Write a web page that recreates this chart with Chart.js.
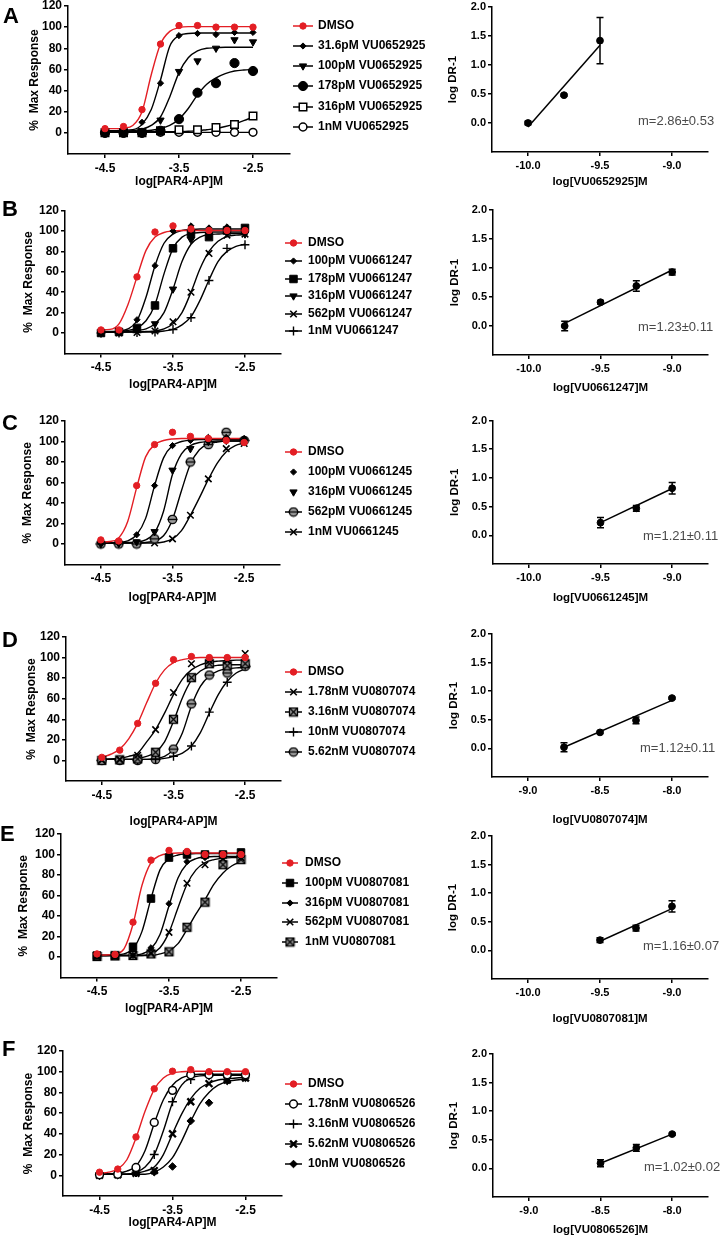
<!DOCTYPE html>
<html>
<head>
<meta charset="utf-8">
<title>PAR4 antagonist Schild analysis</title>
<script src="https://cdn.jsdelivr.net/npm/chart.js@4.4.1/dist/chart.umd.min.js"></script>
<style>
  html, body { margin: 0; padding: 0; background: #fff; }
  body { position: relative; width: 722px; height: 1238px; overflow: hidden; }
  canvas { position: absolute; }
</style>
</head>
<body>
<script>
// shared x values (log M PAR4-AP) and tick sets
const doseX = [-4.5, -4.25, -4, -3.75, -3.5, -3.25, -3, -2.75, -2.5];
const fitX = [-4.5, -4.375, -4.25, -4.125, -4, -3.875, -3.75, -3.625, -3.5, -3.375, -3.25, -3.125, -3, -2.875, -2.75, -2.625, -2.5];
const doseTicks = [-4.5, -3.5, -2.5];
const respTicks = [0, 20, 40, 60, 80, 100, 120];
const drTicks = [0, 0.5, 1, 1.5, 2];

// A - VU0652925
const aLabels = ['DMSO', '31.6pM VU0652925', '100pM VU0652925', '178pM VU0652925', '316pM VU0652925', '1nM VU0652925'];
const aResp = [
  [4, 6, 22, 84, 101.5, 101.5, 100, 100, 100],
  [1, 1, 10, 47, 92, 94, 93, 95, 95],
  [0, 0, 2, 12, 58, 68, 80, 88, 86],
  [0, 0, 0, 2, 13, 38, 47, 66, 58.5],
  [0, 0, 0, 2, 3, 3, 5, 8, 16],
  [0, 0, 0, 0.5, 0.5, 0.5, 0.5, 0.5, 0.5],
];
const aFit = [
  [4, 4, 4.5, 7, 20, 55, 84, 96, 99.5, 100.5, 100.5, 100.5, 100.5, 100.5, 100.5, 100.5, 100.5],
  [2, 2, 2.5, 3, 8, 22, 50, 82, 92, 94, 94.5, 94.5, 94.5, 94.5, 94.5, 94.5, 94.5],
  [1, 1, 1.5, 2, 3.5, 7, 15, 34, 57, 71, 77.5, 80, 80.5, 81, 81, 81, 81],
  [1, 1, 1, 1.5, 2, 2.5, 4, 7, 13, 23, 36, 46, 52, 56, 58.5, 59.5, 60],
  [1, 1, 1, 1, 1, 1, 1, 1, 1, 1.5, 2, 3, 4, 6, 8.5, 11.5, 15],
  [0.5, 0.5, 0.5, 0.5, 0.5, 0.5, 0.5, 0.5, 0.5, 0.5, 0.5, 0.5, 0.5, 0.5, 0.5, 0.5, 0.5],
];
const aSchildX = [-10, -9.75, -9.5];
const aSchildY = [0, 0.48, 1.42];
const aSchildErr = [0.03, 0.02, 0.4];
const aSchildFit = [-0.07, 1.34];
const aSchildTicks = [-10, -9.5, -9];
const aSlope = 'm=2.86±0.53';

// B - VU0661247
const bLabels = ['DMSO', '100pM VU0661247', '178pM VU0661247', '316pM VU0661247', '562pM VU0661247', '1nM VU0661247'];
const bResp = [
  [3, 3, 55, 99, 105, 102, 100.5, 100.5, 100.5],
  [1, 1, 13, 66, 100, 105, 103, 104, 103],
  [0, 1, 5, 27, 83, 97, 94, 100.5, 103],
  [0, 1, 5, 9, 43, 91.5, 96.5, 98, 97],
  [0, 0, 0.5, 2, 11, 40, 78, 96, 97],
  [0, 0, 0.5, 1, 3.5, 15, 51.5, 83, 86.5],
];
const bFit = [
  [3, 3.5, 9, 28, 55, 81, 94, 98.5, 100, 100.5, 100.5, 100.5, 100.5, 100.5, 100.5, 100.5, 100.5],
  [1.5, 1.5, 2, 4, 12, 35, 66, 88, 97, 100.5, 101.5, 102, 102, 102, 102, 102, 102],
  [1, 1, 1.5, 2.5, 5, 12, 28, 58, 83, 94, 97.5, 98.5, 99, 99, 99, 99, 99],
  [1, 1, 1, 1.5, 2.5, 4, 9, 20, 43, 70, 87, 94, 96.5, 97, 97.5, 97.5, 97.5],
  [1, 1, 1, 1, 1, 1.5, 2, 4, 9, 20, 40, 63, 80, 90, 94.5, 96, 96.5],
  [1, 1, 1, 1, 1, 1, 1, 2, 3.5, 8, 16, 32, 52, 70, 80, 85, 87],
];
const bSchildX = [-9.75, -9.5, -9.25, -9];
const bSchildY = [0, 0.41, 0.69, 0.93];
const bSchildErr = [0.08, 0.03, 0.09, 0.05];
const bSchildFit = [0.046, 0.966];
const bSchildTicks = [-10, -9.5, -9];
const bSlope = 'm=1.23±0.11';

// C - VU0661245
const cLabels = ['DMSO', '100pM VU0661245', '316pM VU0661245', '562pM VU0661245', '1nM VU0661245'];
const cResp = [
  [4, 3, 57, 97, 109, 105, 103, 101, 99],
  [0.5, 1, 9, 57, 96, 101, 104, 104, 103],
  [0, 0.5, 2, 12, 72, 93, 100, 101, 100],
  [0, 0, 0, 5, 24, 80, 97, 109, 101],
  [0, 0, 0, 1, 5, 28, 63.5, 93, 98],
];
const cFit = [
  [2, 2.5, 6, 22, 55, 85, 97, 101, 102.5, 103, 103, 103, 103, 103, 103, 103, 103],
  [1, 1, 1.5, 3, 9, 25, 57, 84, 96, 100, 101.5, 102, 102, 102, 102, 102, 102],
  [1, 1, 1, 1.5, 2, 4, 11, 32, 68, 88, 96, 99, 100, 100.5, 100.5, 100.5, 100.5],
  [1, 1, 1, 1, 1, 1.5, 3, 8, 24, 52, 78, 92, 97.5, 99.5, 100.5, 100.5, 100.5],
  [1, 1, 1, 1, 1, 1, 1, 2, 5, 13, 28, 45, 63, 79, 90, 96, 98.5],
];
const cSchildX = [-9.5, -9.25, -9];
const cSchildY = [0.22, 0.47, 0.82];
const cSchildErr = [0.09, 0.05, 0.1];
const cSchildFit = [0.22, 0.815];
const cSchildTicks = [-10, -9.5, -9];
const cSlope = 'm=1.21±0.11';

// D - VU0807074
const dLabels = ['DMSO', '1.78nM VU0807074', '3.16nM VU0807074', '10nM VU0807074', '5.62nM VU0807074'];
const dResp = [
  [3, 10, 36, 75, 98, 101, 100, 100, 100],
  [0.5, 1, 5, 30, 66, 94, 97, 97, 104],
  [0, 0.5, 1.5, 8, 40, 80.5, 94, 92, 94],
  [0, 0, 0, 1.5, 4, 14, 47, 76, 92.5],
  [0, 0, 0, 1, 11, 55, 83, 85, 91.5],
];
const dFit = [
  [3, 6, 11, 21, 36, 56, 75, 88, 95, 98, 99.5, 100, 100, 100, 100, 100, 100],
  [1, 1.5, 2, 4, 7, 18, 30, 46, 64, 79, 88, 93, 95.5, 96.5, 97, 97.5, 97.5],
  [1, 1, 1, 1, 2, 4, 8, 18, 38, 61, 78, 87, 91, 92.5, 93, 93, 93],
  [1, 1, 1, 1, 1, 1, 1, 2, 4, 7, 14, 27, 46, 64, 77, 85, 89],
  [1, 1, 1, 1, 1, 1, 2, 4, 11, 27, 53, 72, 82, 87, 89, 90, 90.5],
];
const dSchildX = [-8.75, -8.5, -8.25, -8];
const dSchildY = [0.02, 0.28, 0.49, 0.88];
const dSchildErr = [0.08, 0.02, 0.06, 0.02];
const dSchildFit = [0.02, 0.84];
const dSchildTicks = [-9, -8.5, -8];
const dSlope = 'm=1.12±0.11';

// E - VU0807081
const eLabels = ['DMSO', '100pM VU0807081', '316pM VU0807081', '562pM VU0807081', '1nM VU0807081'];
const eResp = [
  [3, 2.5, 34, 94.5, 104, 103, 100, 100, 100],
  [1.5, 1.5, 10, 57, 97, 100, 100, 100, 102],
  [1, 1, 1.5, 9, 52, 93, 97, 98, 98],
  [1, 1, 1.5, 4, 24, 72, 90, 96, 97],
  [0.5, 1, 1.5, 3, 5, 29, 53.5, 90, 95],
];
const eFit = [
  [2, 2, 3, 8, 32, 70, 92, 99, 101, 101.5, 101.5, 101.5, 101.5, 101.5, 101.5, 101.5, 101.5],
  [1.5, 1.5, 2, 3, 8, 25, 57, 85, 96, 99.5, 100.5, 101, 101, 101, 101, 101, 101],
  [1.5, 1.5, 1.5, 1.5, 1.5, 3, 8, 22, 50, 77, 91, 96, 97.5, 98, 98, 98, 98],
  [1.5, 1.5, 1.5, 1.5, 1.5, 1.5, 3, 9, 24, 48, 71, 85, 92, 95, 96.5, 97, 97],
  [1.5, 1.5, 1.5, 1.5, 1.5, 1.5, 1.5, 3, 6, 13, 27, 42, 56, 71, 82, 89, 93],
];
const eSchildX = [-9.5, -9.25, -9];
const eSchildY = [0.18, 0.39, 0.77];
const eSchildErr = [0.04, 0.05, 0.1];
const eSchildFit = [0.16, 0.73];
const eSchildTicks = [-10, -9.5, -9];
const eSlope = 'm=1.16±0.07';

// F - VU0806526
const fLabels = ['DMSO', '1.78nM VU0806526', '3.16nM VU0806526', '5.62nM VU0806526', '10nM VU0806526'];
const fResp = [
  [3, 6, 37, 83.5, 100.5, 102, 100, 100, 100],
  [0.5, 1, 7.5, 51, 82, 97, 97, 97, 97],
  [0, 1, 3, 20, 71, 92.5, 96, 96, 96],
  [0, 0.5, 2, 4.5, 40, 71, 88.5, 92, 94],
  [0, 0, 2, 3, 8.5, 52.5, 70, 91, 94],
];
const fFit = [
  [2, 3, 6, 15, 36, 62, 83, 94, 98.5, 100, 100.5, 100.5, 100.5, 100.5, 100.5, 100.5, 100.5],
  [1, 1.5, 2, 4, 9, 24, 50, 73, 87, 94, 96.5, 97.5, 97.5, 97.5, 97.5, 97.5, 97.5],
  [1, 1, 1, 1, 3, 8, 20, 43, 70, 87, 94, 96, 96.5, 96.5, 96.5, 96.5, 96.5],
  [1, 1, 1, 1, 2, 4, 8, 20, 40, 59, 74, 84, 89, 92, 93, 94, 94.5],
  [1, 1, 1, 1, 1, 1, 3, 8, 17, 33, 52, 69, 80, 87, 90.5, 92, 93],
];
const fSchildX = [-8.5, -8.25, -8];
const fSchildY = [0.09, 0.36, 0.6];
const fSchildErr = [0.06, 0.06, 0.02];
const fSchildFit = [0.09, 0.6];
const fSchildTicks = [-9, -8.5, -8];
const fSlope = 'm=1.02±0.02';

// ---------------- styling ----------------
const FONT = "'Liberation Sans', Arial, sans-serif";
const RED = '#e31e24';
const INK = '#000';

function markerCanvas(kind) {
  const c = document.createElement('canvas');
  c.width = 11; c.height = 11;
  const g = c.getContext('2d');
  g.lineWidth = 1.3;
  g.strokeStyle = '#000';
  g.fillStyle = '#9c9c9c';
  if (kind === 'circleBar') {
    g.beginPath(); g.arc(5.5, 5.5, 4.2, 0, Math.PI * 2); g.fill(); g.stroke();
    g.beginPath(); g.moveTo(0.5, 5.5); g.lineTo(10.5, 5.5); g.stroke();
  } else {
    g.fillRect(1.5, 1.5, 8, 8); g.strokeRect(1.5, 1.5, 8, 8);
    g.beginPath(); g.moveTo(1.5, 1.5); g.lineTo(9.5, 9.5); g.moveTo(9.5, 1.5); g.lineTo(1.5, 9.5); g.stroke();
  }
  return c;
}

const MARKS = {
  dmso: { pointStyle: 'circle', radius: 3.2, fill: RED, stroke: RED, width: 1 },
  diamond: { pointStyle: 'rectRot', radius: 3.1, fill: INK, stroke: INK, width: 1 },
  bigDiamond: { pointStyle: 'rectRot', radius: 3.8, fill: INK, stroke: INK, width: 1 },
  triDown: { pointStyle: 'triangle', radius: 4.2, rotation: 180, fill: INK, stroke: INK, width: 1 },
  bigDot: { pointStyle: 'circle', radius: 4.6, fill: INK, stroke: INK, width: 1 },
  openSquare: { pointStyle: 'rect', radius: 5.3, fill: '#fff', stroke: INK, width: 1.5 },
  openCircle: { pointStyle: 'circle', radius: 3.9, fill: '#fff', stroke: INK, width: 1.5 },
  square: { pointStyle: 'rect', radius: 5.3, fill: INK, stroke: INK, width: 1 },
  plus: { pointStyle: 'cross', radius: 4.4, fill: INK, stroke: INK, width: 1.4 },
  times: { pointStyle: 'crossRot', radius: 4.6, fill: INK, stroke: INK, width: 1.6 },
  timesBold: { pointStyle: 'crossRot', radius: 4.8, fill: INK, stroke: INK, width: 2.4 },
  circleBar: { pointStyle: markerCanvas('circleBar'), radius: 5, fill: INK, stroke: INK, width: 1 },
  squareX: { pointStyle: markerCanvas('squareX'), radius: 5, fill: INK, stroke: INK, width: 1 },
};

const panels = [
  { letter: 'A', labels: aLabels, resp: aResp, fit: aFit,
    marks: ['dmso', 'diamond', 'triDown', 'bigDot', 'openSquare', 'openCircle'],
    sx: aSchildX, sy: aSchildY, serr: aSchildErr, sfit: aSchildFit, sticks: aSchildTicks, slope: aSlope,
    sTitle: 'log[VU0652925]M' },
  { letter: 'B', labels: bLabels, resp: bResp, fit: bFit,
    marks: ['dmso', 'diamond', 'square', 'triDown', 'times', 'plus'],
    sx: bSchildX, sy: bSchildY, serr: bSchildErr, sfit: bSchildFit, sticks: bSchildTicks, slope: bSlope,
    sTitle: 'log[VU0661247]M' },
  { letter: 'C', labels: cLabels, resp: cResp, fit: cFit,
    marks: ['dmso', 'diamond', 'triDown', 'circleBar', 'times'], noLine: [1, 2],
    sx: cSchildX, sy: cSchildY, serr: cSchildErr, sfit: cSchildFit, sticks: cSchildTicks, slope: cSlope,
    sTitle: 'log[VU0661245]M' },
  { letter: 'D', labels: dLabels, resp: dResp, fit: dFit,
    marks: ['dmso', 'times', 'squareX', 'plus', 'circleBar'],
    sx: dSchildX, sy: dSchildY, serr: dSchildErr, sfit: dSchildFit, sticks: dSchildTicks, slope: dSlope,
    sTitle: 'log[VU0807074]M' },
  { letter: 'E', labels: eLabels, resp: eResp, fit: eFit,
    marks: ['dmso', 'square', 'diamond', 'times', 'squareX'],
    sx: eSchildX, sy: eSchildY, serr: eSchildErr, sfit: eSchildFit, sticks: eSchildTicks, slope: eSlope,
    sTitle: 'log[VU0807081]M' },
  { letter: 'F', labels: fLabels, resp: fResp, fit: fFit,
    marks: ['dmso', 'openCircle', 'plus', 'timesBold', 'bigDiamond'],
    sx: fSchildX, sy: fSchildY, serr: fSchildErr, sfit: fSchildFit, sticks: fSchildTicks, slope: fSlope,
    sTitle: 'log[VU0806526]M' },
];

// page positions of each panel's pieces
const LAYOUT = {
  A: { letter: [3, 23], dose: { x0: 68, x1: 290, y0: 6, y1: 154, yTitle: 35, xTitle: 182 },
       legend: { x0: 293, x1: 313, text: 318, rows: [26, 46, 66, 86, 107, 127] },
       schild: { x0: 492, x1: 708, y0: 7, y1: 152, yTitle: 453, xTitle: 182 }, note: [638, 121] },
  B: { letter: [2, 216], dose: { x0: 65, x1: 281, y0: 210.6, y1: 353.4, yTitle: 29, xTitle: 385 },
       legend: { x0: 285, x1: 302, text: 308, rows: [243, 261, 279, 296, 314, 331] },
       schild: { x0: 493, x1: 708, y0: 210, y1: 355, yTitle: 455, xTitle: 388 }, note: [638, 327] },
  C: { letter: [2, 430], dose: { x0: 65, x1: 280, y0: 421, y1: 564.5, yTitle: 28, xTitle: 598 },
       legend: { x0: 285, x1: 302, text: 308, rows: [452, 472, 492, 512, 532] },
       schild: { x0: 493, x1: 708, y0: 420.5, y1: 564, yTitle: 455, xTitle: 598 }, note: [643, 536] },
  D: { letter: [2, 647], dose: { x0: 66, x1: 281, y0: 637, y1: 781, yTitle: 32, xTitle: 822 },
       legend: { x0: 285, x1: 302, text: 308, rows: [672, 692, 712, 732, 752] },
       schild: { x0: 492, x1: 708, y0: 634, y1: 777, yTitle: 454, xTitle: 820 }, note: [640, 748] },
  E: { letter: [0, 841], dose: { x0: 61, x1: 277, y0: 834, y1: 977.5, yTitle: 24, xTitle: 1009 },
       legend: { x0: 282, x1: 298, text: 305, rows: [863, 883, 903, 922, 942] },
       schild: { x0: 492, x1: 708, y0: 836, y1: 979, yTitle: 453, xTitle: 1019 }, note: [643, 946] },
  F: { letter: [2, 1056], dose: { x0: 63, x1: 282, y0: 1051, y1: 1196, yTitle: 29, xTitle: 1223 },
       legend: { x0: 285, x1: 302, text: 308, rows: [1084, 1104, 1124, 1144, 1164] },
       schild: { x0: 493, x1: 708, y0: 1054, y1: 1197, yTitle: 454, xTitle: 1230 }, note: [644, 1167] },
};

const toXY = (xs, ys) => xs.map((x, i) => ({ x, y: ys[i] }));

function addCanvas(left, top, w, h) {
  const cv = document.createElement('canvas');
  cv.width = w; cv.height = h;
  cv.style.left = left + 'px'; cv.style.top = top + 'px';
  document.body.appendChild(cv);
  return cv;
}

// letter, legend and slope text
function makeDecor(d) {
  return {
    id: 'decor',
    afterDraw(chart) {
      const ctx = chart.ctx;
      ctx.save();
      if (d.letter) {
        ctx.font = 'bold 22px ' + FONT;
        ctx.fillStyle = '#000';
        ctx.textAlign = 'left';
        ctx.textBaseline = 'alphabetic';
        ctx.fillText(d.letter, d.letterX, d.letterY);
      }
      if (d.legend) {
        const lg = d.legend;
        lg.items.forEach((it, i) => {
          const y = lg.rows[i];
          const m = it.mark;
          if (it.line) {
            ctx.strokeStyle = it.color;
            ctx.lineWidth = 1.5;
            ctx.beginPath(); ctx.moveTo(lg.x0, y); ctx.lineTo(lg.x1, y); ctx.stroke();
          }
          ctx.fillStyle = m.fill;
          ctx.strokeStyle = m.stroke;
          ctx.lineWidth = m.width;
          Chart.helpers.drawPoint(ctx, { pointStyle: m.pointStyle, radius: m.radius, rotation: m.rotation || 0, borderWidth: m.width }, (lg.x0 + lg.x1) / 2, y);
          ctx.fillStyle = '#000';
          ctx.font = 'bold 12px ' + FONT;
          ctx.textAlign = 'left';
          ctx.textBaseline = 'middle';
          ctx.fillText(it.label, lg.text, y);
        });
      }
      if (d.note) {
        ctx.font = '13px ' + FONT;
        ctx.fillStyle = '#4a4a4a';
        ctx.textAlign = 'left';
        ctx.textBaseline = 'middle';
        ctx.fillText(d.note, d.noteX, d.noteY);
      }
      ctx.restore();
    }
  };
}

const errorBars = {
  id: 'errorBars',
  beforeDatasetsDraw(chart) {
    const { ctx, scales: { x, y } } = chart;
    chart.data.datasets.forEach(ds => {
      if (!ds.errors) return;
      ctx.save();
      ctx.strokeStyle = '#000';
      ctx.lineWidth = 1.5;
      ds.data.forEach((p, i) => {
        const e = ds.errors[i];
        const px = x.getPixelForValue(p.x);
        const hi = y.getPixelForValue(p.y + e);
        const lo = y.getPixelForValue(p.y - e);
        ctx.beginPath();
        ctx.moveTo(px, hi); ctx.lineTo(px, lo);
        ctx.moveTo(px - 3.5, hi); ctx.lineTo(px + 3.5, hi);
        ctx.moveTo(px - 3.5, lo); ctx.lineTo(px + 3.5, lo);
        ctx.stroke();
      });
      ctx.restore();
    });
  }
};

function axisStyle(size) {
  return {
    ticks: { font: { family: FONT, size, weight: 'bold' }, color: '#000', padding: 2, autoSkip: false, maxRotation: 0 },
    grid: { drawOnChartArea: false, drawTicks: true, tickLength: 4, color: '#000', lineWidth: 1.5 },
    border: { color: '#000', width: 1.5 },
  };
}

function doseChart(p, L) {
  const box = L.dose;
  const top = Math.round(box.y0 - 22);
  const bottom = Math.round(box.xTitle + 14);
  const W = 440, H = bottom - top;
  const cv = addCanvas(0, top, W, H);

  const datasets = [];
  p.labels.forEach((label, i) => {
    const m = MARKS[p.marks[i]];
    datasets.push({
      label, data: toXY(doseX, p.resp[i]), showLine: false,
      pointStyle: m.pointStyle, pointRadius: m.radius, pointHoverRadius: m.radius, pointRotation: m.rotation || 0,
      pointBackgroundColor: m.fill, pointBorderColor: m.stroke, pointBorderWidth: m.width, order: 0,
    });
    datasets.push({
      data: toXY(fitX, p.fit[i]), borderColor: i === 0 ? RED : INK, borderWidth: 1.4,
      pointRadius: 0, cubicInterpolationMode: 'monotone', order: i === 0 ? 1 : 2,
    });
  });

  const xs = axisStyle(12), ys = axisStyle(12);
  const titleFont = { family: FONT, size: 12, weight: 'bold' };
  const noLine = p.noLine || [];

  new Chart(cv, {
    type: 'line',
    data: { datasets },
    options: {
      responsive: false, animation: false, devicePixelRatio: 1,
      layout: { padding: { top: box.y0 - top, right: W - box.x1, left: 0, bottom: 0 } },
      plugins: { legend: { display: false }, tooltip: { enabled: false } },
      scales: {
        x: {
          type: 'linear', min: -5, max: -2, ...xs,
          ticks: { ...xs.ticks, padding: 3, callback: v => String(v) },
          afterBuildTicks: s => { s.ticks = doseTicks.map(v => ({ value: v })); },
          afterFit: s => { s.height = bottom - box.y1; },
          title: { display: true, text: 'log[PAR4-AP]M', color: '#000', font: titleFont, padding: { top: 0, bottom: (bottom - box.xTitle) - 7.2 } },
        },
        y: {
          type: 'linear', min: -20, max: 120, ...ys,
          afterBuildTicks: s => { s.ticks = respTicks.map(v => ({ value: v })); },
          afterFit: s => { s.width = box.x0; },
          title: { display: true, text: '%  Max Response', color: '#000', font: titleFont, padding: { top: box.yTitle - 7.2, bottom: 0 } },
        },
      },
    },
    plugins: [makeDecor({
      letter: p.letter, letterX: L.letter[0], letterY: L.letter[1] - top,
      legend: {
        x0: L.legend.x0, x1: L.legend.x1, text: L.legend.text,
        rows: L.legend.rows.map(r => r - top),
        items: p.labels.map((label, i) => ({
          label, mark: MARKS[p.marks[i]], color: i === 0 ? RED : INK, line: !noLine.includes(i),
        })),
      },
    })],
  });
}

function schildChart(p, L) {
  const box = L.schild;
  const left = 440;
  const top = Math.round(box.y0 - 22);
  const bottom = Math.round(box.xTitle + 14);
  const W = 722 - left, H = bottom - top;
  const cv = addCanvas(left, top, W, H);

  const xs = axisStyle(11), ys = axisStyle(11);
  const titleFont = { family: FONT, size: 11.5, weight: 'bold' };
  const lh = 11.5 * 1.2;

  new Chart(cv, {
    type: 'line',
    data: {
      datasets: [
        {
          data: toXY(p.sx, p.sy), errors: p.serr, showLine: false,
          pointStyle: 'circle', pointRadius: 3.4, pointHoverRadius: 3.4,
          pointBackgroundColor: INK, pointBorderColor: INK, order: 0,
        },
        {
          data: toXY([p.sx[0], p.sx[p.sx.length - 1]], p.sfit),
          borderColor: INK, borderWidth: 1.5, pointRadius: 0, order: 1,
        },
      ],
    },
    options: {
      responsive: false, animation: false, devicePixelRatio: 1,
      layout: { padding: { top: box.y0 - top, right: 722 - box.x1, left: 0, bottom: 0 } },
      plugins: { legend: { display: false }, tooltip: { enabled: false } },
      scales: {
        x: {
          type: 'linear', min: p.sticks[0] - 0.25, max: p.sticks[2] + 0.25, ...xs,
          ticks: { ...xs.ticks, padding: 3, callback: v => v.toFixed(1) },
          afterBuildTicks: s => { s.ticks = p.sticks.map(v => ({ value: v })); },
          afterFit: s => { s.height = bottom - box.y1; },
          title: { display: true, text: p.sTitle, color: '#000', font: titleFont, padding: { top: 0, bottom: (bottom - box.xTitle) - lh / 2 } },
        },
        y: {
          type: 'linear', min: -0.5, max: 2, ...ys,
          ticks: { ...ys.ticks, callback: v => v.toFixed(1) },
          afterBuildTicks: s => { s.ticks = drTicks.map(v => ({ value: v })); },
          afterFit: s => { s.width = box.x0 - left; },
          title: { display: true, text: 'log DR-1', color: '#000', font: titleFont, padding: { top: box.yTitle - left - lh / 2, bottom: 0 } },
        },
      },
    },
    plugins: [errorBars, makeDecor({ note: p.slope, noteX: L.note[0] - left, noteY: L.note[1] - top })],
  });
}

panels.forEach(p => {
  doseChart(p, LAYOUT[p.letter]);
  schildChart(p, LAYOUT[p.letter]);
});
</script>
</body>
</html>
